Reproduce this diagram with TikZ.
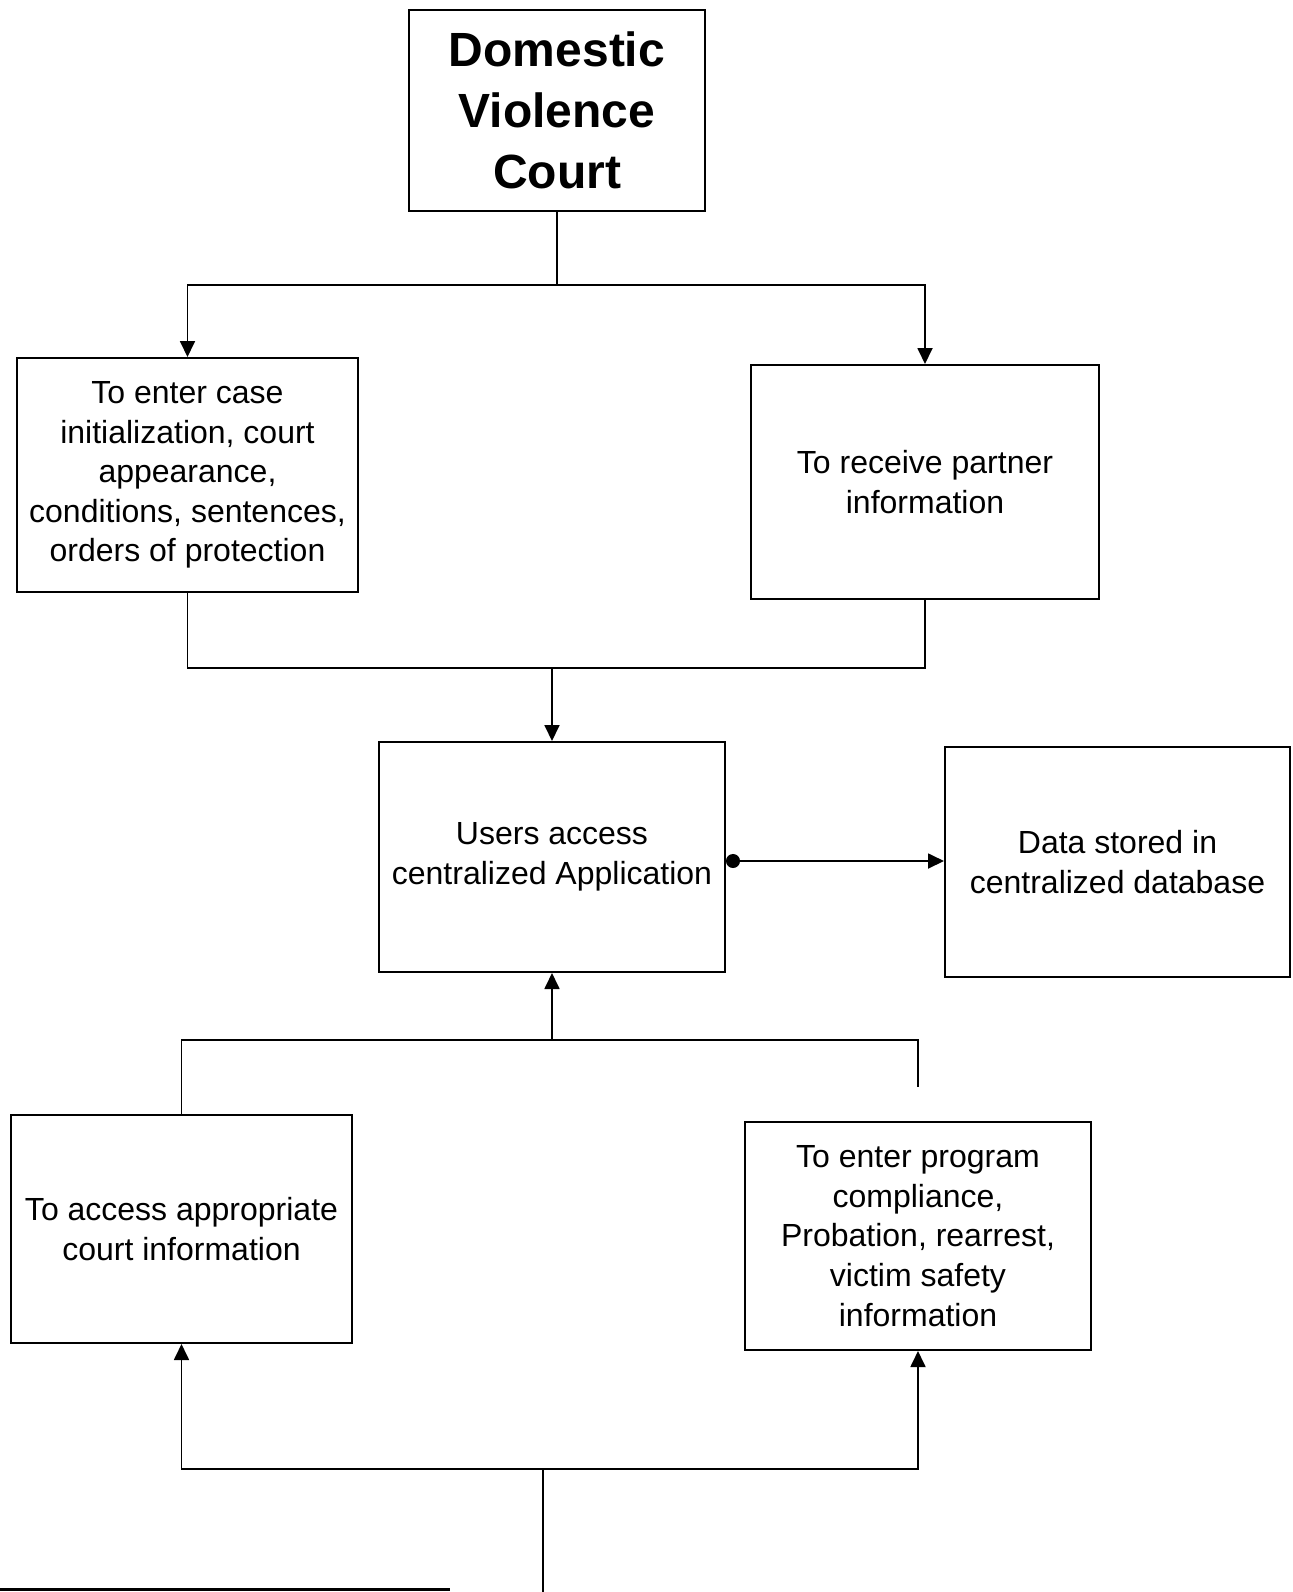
\documentclass[tikz,border=0pt]{standalone}
\usepackage{fontspec}
\setmainfont{Liberation Sans}
\usetikzlibrary{arrows.meta}

\begin{document}
\begin{tikzpicture}[x=0.5pt,y=-0.5pt,
                    box/.style={draw,line width=1pt,align=center,inner sep=2pt,
                                font=\fontsize{16}{19.8}\selectfont},
                    title box/.style={box,font=\bfseries\fontsize{24}{30.5}\selectfont},
                    link/.style={line width=0.9pt},
                    flow/.style={link,-{Triangle[length=8pt,width=7.5pt]}}]
      \useasboundingbox (0,0) rectangle (1293,1592);

      \node[title box,minimum width=148pt,minimum height=100.5pt] (court) at (557,110.5) {
        Domestic\\Violence\\Court
      };

      \node[box,minimum width=170.5pt,minimum height=117pt] (enter) at (187.5,475) {
        To enter case\\initialization, court\\appearance,\\conditions, sentences,\\orders of protection
      };
      \node[box,minimum width=174pt,minimum height=117pt] (partner) at (925,482) {
        To receive partner\\information
      };

      \node[box,minimum width=173pt,minimum height=115pt] (app) at (552,857) {
        Users access\\centralized Application
      };
      \node[box,minimum width=172.5pt,minimum height=115pt] (db) at (1117.5,862) {
        Data stored in\\centralized database
      };

      \node[box,minimum width=170.5pt,minimum height=114pt] (access) at (181.5,1229) {
        To access appropriate\\court information
      };
      \node[box,minimum width=173pt,minimum height=114pt] (compliance) at (918,1236) {
        To enter program\\compliance,\\Probation, rearrest,\\victim safety\\information
      };

      % junctions of the branching lines
      \coordinate (split) at (557,285);
      \coordinate (join1) at (552,668);
      \coordinate (join2) at (552,1040);
      \coordinate (join3) at (543,1469);
      \coordinate (source) at (543,1592);

      \draw[link] (court.south) -- (split);
      \draw[flow] (split) -| (enter.north);
      \draw[flow] (split) -| (partner.north);

      \draw[link] (enter.south) |- (join1) -| (partner.south);
      \draw[flow] (join1) -- (app.north);

      \draw[link,{Circle[length=7pt]}-{Triangle[length=8pt,width=7.5pt]}] ([yshift=-2pt]app.east) -- ([yshift=-2pt]app.east -| db.west);

      \draw[flow] (access.north) |- (join2) -- (app.south);
      \draw[link,shorten >=17pt] (join2) -| (compliance.north);

      \draw[link] (source) -- (join3);
      \draw[flow] (join3) -| (access.south);
      \draw[flow] (join3) -| (compliance.south);

      \draw[line width=1.5pt] (0,1589) -- (450,1589);
\end{tikzpicture}
\end{document}
